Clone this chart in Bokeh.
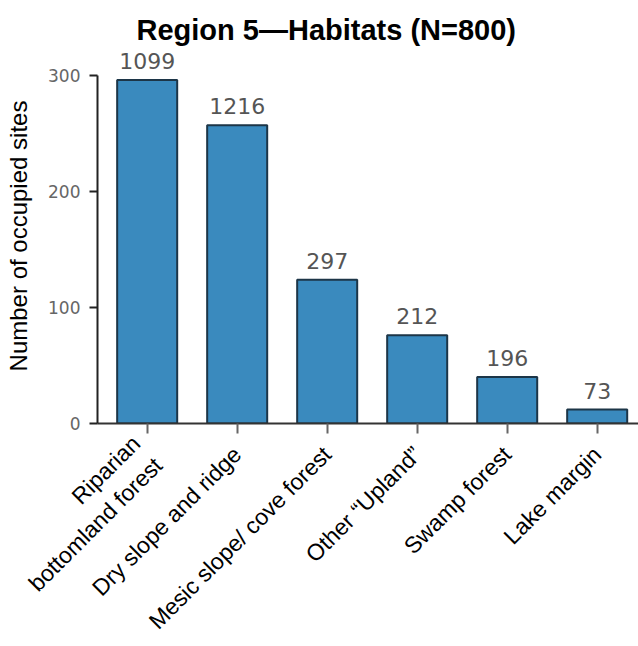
import math
from bokeh.plotting import figure
from bokeh.models import Range1d, FixedTicker, ColumnDataSource, LabelSet
from bokeh.core.properties import value
from bokeh.embed import file_html
from bokeh.resources import INLINE

categories = ["Riparian\nbottomland forest", "Dry slope and ridge", "Mesic slope/ cove forest",
              "Other \u201cUpland\u201d", "Swamp forest", "Lake margin"]
sites = [296, 257, 124, 76, 40, 12]
bar_labels = ["1099", "1216", "297", "212", "196", "73"]
y_ticks = [0, 100, 200, 300]

xs = list(range(len(categories)))
src = ColumnDataSource(dict(x=xs, top=sites, lab=bar_labels))

p = figure(width=638, height=646, x_range=Range1d(-0.552, 5.459), y_range=Range1d(0, 323.2),
           output_backend="svg", toolbar_location=None,
           title="Region 5\u2014Habitats (N=800)",
           min_border_left=97, min_border_right=0, min_border_top=48, min_border_bottom=222)
p.title.align = "left"
p.title.offset = 39
p.title.text_font = "Liberation Sans"
p.title.text_font_size = "29px"
p.title.text_font_style = "bold"
p.title.text_color = "black"
p.title.standoff = 6
p.outline_line_color = None
p.xgrid.grid_line_color = None
p.ygrid.grid_line_color = None

p.vbar(x="x", top="top", width=0.667, source=src, fill_color="#3a8abe",
       line_color="#1c3547", line_width=2)
p.add_layout(LabelSet(x="x", y="top", text="lab", source=src, text_align="center",
                      text_baseline="alphabetic", y_offset=11,
                      text_font=value("DejaVu Sans"), text_font_size="22px",
                      text_color="#555555"))

yax = p.yaxis[0]
yax.ticker = FixedTicker(ticks=y_ticks)
yax.bounds = (0, 300)
yax.axis_label = "Number of occupied sites"
yax.axis_label_text_font = "Liberation Sans"
yax.axis_label_text_font_size = "24px"
yax.axis_label_text_font_style = "normal"
yax.axis_label_text_color = "black"
yax.axis_label_standoff = 13
yax.major_label_text_font = "DejaVu Sans"
yax.major_label_text_font_size = "17px"
yax.major_label_text_color = "#666666"
yax.major_label_standoff = 9
yax.major_tick_in = 0
yax.major_tick_out = 8
yax.minor_tick_line_color = None
yax.axis_line_width = 2
yax.axis_line_color = "#222222"
yax.major_tick_line_width = 2
yax.major_tick_line_color = "#222222"

xax = p.xaxis[0]
xax.ticker = FixedTicker(ticks=xs)
xax.major_label_overrides = {i: c for i, c in zip(xs, categories)}
xax.major_label_orientation = math.pi / 4
xax.major_label_text_font = "Liberation Sans"
xax.major_label_text_font_size = "23px"
xax.major_label_text_color = "black"
xax.major_label_standoff = 17
xax.major_tick_in = 0
xax.major_tick_out = 10
xax.major_tick_line_width = 2
xax.major_tick_line_color = "#666666"
xax.minor_tick_line_color = None
xax.axis_line_width = 2
xax.axis_line_color = "#333333"

open("out.html", "w").write(file_html(p, INLINE))
